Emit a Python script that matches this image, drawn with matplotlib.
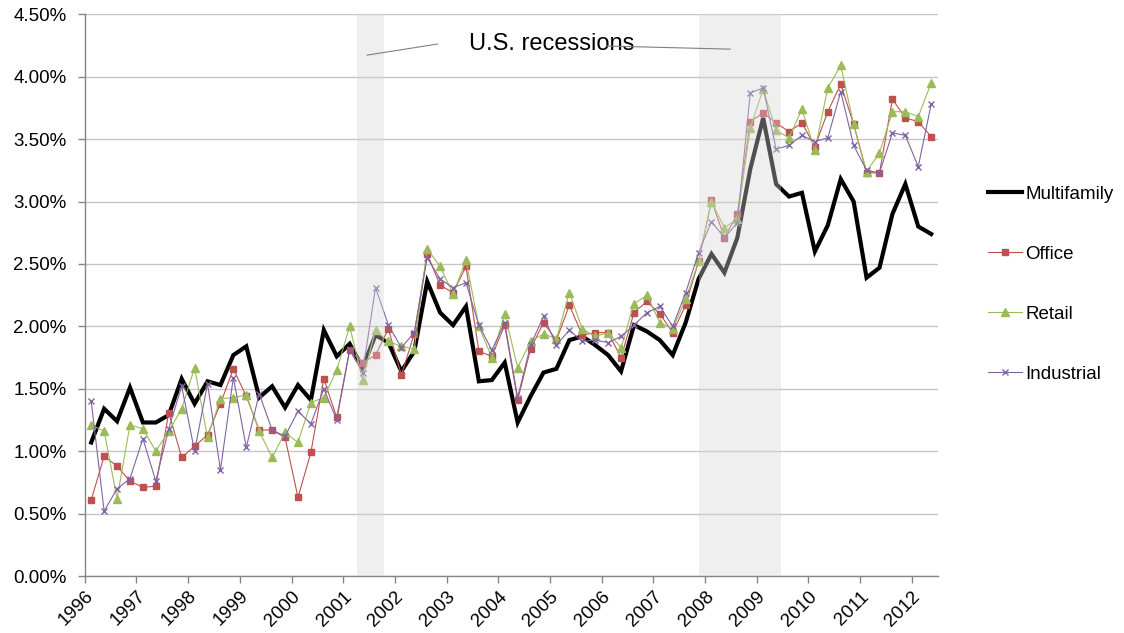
import numpy as np
import pandas as pd
import matplotlib
matplotlib.use('Agg')
import matplotlib.pyplot as plt
from matplotlib.ticker import FuncFormatter, MultipleLocator

plt.rcParams['font.family'] = ['Liberation Sans', 'DejaVu Sans']

# quarterly data 1996Q1 - 2012Q2 (percent)
quarters = pd.period_range('1996Q1', '2012Q2', freq='Q')

multifamily = [1.07, 1.34, 1.24, 1.51, 1.23, 1.23, 1.29, 1.58, 1.38, 1.56, 1.53, 1.77,
               1.84, 1.43, 1.52, 1.35, 1.53, 1.41, 1.97, 1.76, 1.86, 1.67, 1.93, 1.87,
               1.64, 1.80, 2.36, 2.11, 2.01, 2.16, 1.56, 1.57, 1.71, 1.23, 1.44, 1.63,
               1.66, 1.89, 1.92, 1.85, 1.77, 1.64, 2.01, 1.96, 1.89, 1.77, 2.03, 2.38,
               2.58, 2.43, 2.71, 3.26, 3.67, 3.14, 3.04, 3.07, 2.60, 2.81, 3.18, 3.00,
               2.39, 2.47, 2.90, 3.14, 2.80, 2.74]

office = [0.61, 0.96, 0.88, 0.76, 0.71, 0.72, 1.31, 0.95, 1.04, 1.13, 1.38, 1.66,
          1.44, 1.17, 1.17, 1.11, 0.63, 0.99, 1.58, 1.27, 1.81, 1.71, 1.77, 1.98,
          1.61, 1.94, 2.58, 2.33, 2.27, 2.48, 1.80, 1.76, 2.01, 1.41, 1.82, 2.03,
          1.89, 2.17, 1.93, 1.95, 1.95, 1.75, 2.11, 2.20, 2.10, 1.95, 2.17, 2.52,
          3.01, 2.71, 2.90, 3.64, 3.71, 3.63, 3.56, 3.63, 3.44, 3.72, 3.94, 3.62,
          3.23, 3.23, 3.82, 3.67, 3.64, 3.52]

retail = [1.21, 1.16, 0.62, 1.21, 1.18, 1.00, 1.16, 1.34, 1.67, 1.11, 1.42, 1.43,
          1.45, 1.16, 0.95, 1.15, 1.07, 1.39, 1.43, 1.65, 2.00, 1.57, 1.97, 1.88,
          1.84, 1.82, 2.62, 2.48, 2.26, 2.53, 2.00, 1.75, 2.10, 1.67, 1.88, 1.94,
          1.90, 2.27, 1.98, 1.92, 1.95, 1.83, 2.18, 2.25, 2.03, 1.98, 2.22, 2.52,
          3.00, 2.79, 2.86, 3.59, 3.90, 3.57, 3.51, 3.74, 3.41, 3.91, 4.09, 3.62,
          3.24, 3.39, 3.72, 3.72, 3.68, 3.95]

industrial = [1.40, 0.52, 0.70, 0.78, 1.10, 0.76, 1.18, 1.52, 1.00, 1.54, 0.85, 1.59,
              1.03, 1.46, 1.17, 1.12, 1.32, 1.22, 1.50, 1.25, 1.81, 1.63, 2.31, 2.01,
              1.83, 1.95, 2.55, 2.38, 2.31, 2.35, 2.01, 1.81, 2.03, 1.43, 1.85, 2.08,
              1.85, 1.97, 1.88, 1.89, 1.87, 1.92, 2.01, 2.11, 2.16, 2.00, 2.27, 2.59,
              2.84, 2.71, 2.83, 3.87, 3.91, 3.42, 3.45, 3.53, 3.48, 3.51, 3.88, 3.45,
              3.25, 3.23, 3.55, 3.53, 3.28, 3.78]

# recession periods (fractional years, as shaded in the chart)
recessions = [(2001.27, 2001.79), (2007.885, 2009.47)]

years = list(range(1996, 2013))

# x position: middle of each quarter
x = np.array([q.year + (q.quarter - 0.5) / 4 for q in quarters])

fig = plt.figure(figsize=(11.24, 6.33), dpi=100)
ax = fig.add_axes([0.0754, 0.0900, 0.7588, 0.8874])

ax.plot(x, np.array(multifamily) / 100, color='black', lw=3.0, label='Multifamily',
        solid_joinstyle='miter', zorder=3)
ax.plot(x, np.array(office) / 100, color='#C0504D', lw=0.8, marker='s', ms=5,
        mec='#C0504D', label='Office', zorder=4)
ax.plot(x, np.array(retail) / 100, color='#9BBB59', lw=0.8, marker='^', ms=6,
        mec='#9BBB59', label='Retail', zorder=5)
ax.plot(x, np.array(industrial) / 100, color='#8064A2', lw=0.8, marker='x', ms=5,
        mew=1.0, label='Industrial', zorder=6)

# recession shading drawn over the lines (semi transparent)
for start, end in recessions:
    ax.axvspan(start, end, color='#D5D5D5', alpha=0.375, lw=0, zorder=7)

ax.text(2005.04, 0.04262, 'U.S. recessions', fontsize=17, ha='center', va='center', zorder=8)
ax.annotate('', xy=(2001.46, 0.04173), xytext=(2002.83, 0.04262),
            arrowprops=dict(arrowstyle='-', color='#808080', lw=0.8, shrinkA=0, shrinkB=0),
            zorder=8)
ax.annotate('', xy=(2008.49, 0.04221), xytext=(2006.09, 0.04246),
            arrowprops=dict(arrowstyle='-', color='#808080', lw=0.8, shrinkA=0, shrinkB=0),
            zorder=8)

ax.set_xlim(1996, 2012.5)
ax.set_ylim(0, 0.045)
ax.yaxis.set_major_locator(MultipleLocator(0.005))
ax.yaxis.set_major_formatter(FuncFormatter(lambda v, p: f"{v*100:.2f}%"))
ax.set_xticks(years)
ax.set_xticklabels([str(y) for y in years], rotation=45, ha='right', va='top',
                   rotation_mode='anchor')

ax.grid(axis='y', color='#C6C6C6', lw=1.0)
ax.set_axisbelow(True)
for s in ['top', 'right']:
    ax.spines[s].set_visible(False)
for s in ['left', 'bottom']:
    ax.spines[s].set_color('#868686')
    ax.spines[s].set_linewidth(1.0)
ax.tick_params(axis='both', colors='#868686', labelcolor='black', labelsize=13.5,
               length=5, width=1.0)
ax.tick_params(axis='y', pad=8)
ax.tick_params(axis='x', pad=3.5)

fig.legend(loc='upper left', bbox_to_anchor=(0.8787, 0.707), frameon=False,
           fontsize=13.5, labelspacing=2.29, handlelength=1.81, handletextpad=0.2,
           borderpad=0, borderaxespad=0)

fig.savefig('out.png', dpi=100)
